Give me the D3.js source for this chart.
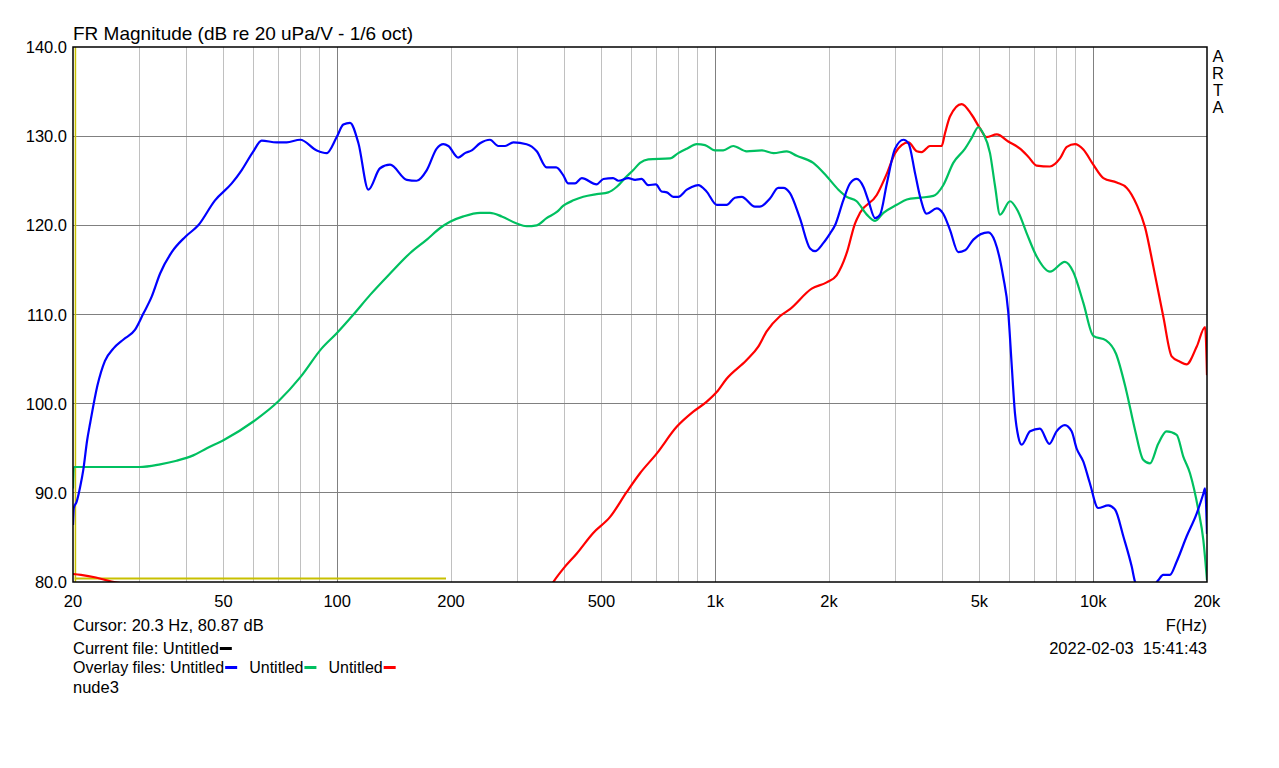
<!DOCTYPE html>
<html><head><meta charset="utf-8">
<script src="https://cdn.jsdelivr.net/npm/d3@7"></script>
<style>
html,body{margin:0;padding:0;background:#fff;}
svg{display:block;font-family:"Liberation Sans",Arial,sans-serif;}
</style></head>
<body>
<svg id="c" width="1279" height="768"></svg>
<script>
// ---- data (frequency Hz, dB) ----
const xTickLabels = [[20,"20"],[50,"50"],[100,"100"],[200,"200"],[500,"500"],[1000,"1k"],[2000,"2k"],[5000,"5k"],[10000,"10k"],[20000,"20k"]];
const yTicks = [80,90,100,110,120,130,140];
const blueFreq = [20,20.1,20.45,20.9,21.3,21.8,22.2,23.2,24.3,25.6,27.2,29.2,30.7,32.3,34,36.5,39.6,42.9,47.5,52.6,55.9,60,63.1,69.1,73.5,79.8,88.3,93.8,99.7,103.8,108.1,113.8,120.9,129.8,138,152.8,162.2,172.6,183.3,190.9,196.8,209,217.8,227,238.7,253.6,266.7,278,292.4,317,337.2,358,379.4,396.5,408.5,425.7,443.6,485.6,505.9,537,554.5,589,613.8,638.6,665.2,696.6,721.2,744.7,774.8,798.4,841.4,867,901.6,948.4,1009,1072,1127,1175,1274,1313,1396,1468,1514,1577,1675,1782,1837,1931,2014,2075,2182,2274,2367,2467,2541,2649,2730,2845,2991,3148,3246,3380,3484,3625,3855,4011,4179,4395,4581,4819,5275,5495,5781,5959,6083,6209,6336,6470,6808,7229,7655,7999,8413,8768,9034,9417,9795,10304,10960,11430,12018,12648,12910,13715,14860,15313,15950,16630,17660,18790,19560,19760,20000];
const blueDb = [86.4,88.3,89.0,90.7,92.6,95.9,97.8,102.0,104.8,106.2,107.2,108.3,110.1,112.0,114.6,117.0,118.7,120.0,122.8,124.7,126.2,128.3,129.5,129.3,129.3,129.6,128.4,128.1,129.9,131.3,131.5,129.2,124.0,126.4,126.8,125.1,125.0,126.2,128.6,129.1,128.9,127.6,128.1,128.4,129.2,129.6,128.9,128.9,129.3,129.1,128.3,126.5,126.5,125.6,124.7,124.7,125.3,124.6,125.2,125.3,125.0,125.3,125.1,125.2,124.5,124.6,123.8,123.7,123.2,123.2,124.0,124.3,124.5,123.8,122.3,122.3,123.1,123.2,122.1,122.1,123.0,124.2,124.2,123.6,120.8,117.4,117.1,118.0,119.1,120.0,122.8,124.7,125.2,124.3,122.8,120.8,121.2,124.7,128.6,129.6,129.2,125.8,123.2,121.3,121.9,121.3,119.5,117.0,117.2,118.4,119.2,118.2,114.2,110.3,104.5,98.9,96.3,95.4,96.9,97.2,95.5,96.9,97.6,96.9,95.0,93.5,91.1,88.3,88.6,88.1,85.1,81.7,80.0,78.5,80.2,80.8,80.8,82.3,85.1,87.7,89.9,90.5,85.4];
const greenFreq = [20,20.1,25,30,34,37.6,41.6,45.2,50,60,70,80,91,99.7,110.4,122.2,138,156,172.6,187.2,198.8,215.7,238.7,253.6,272.4,298.5,317,337.2,358,381.1,396.5,421.6,447.7,485.6,521.2,548.3,583.4,607.2,632.5,665.2,759,798.4,841.4,893.4,939.7,998.5,1050,1116,1211,1328,1426,1546,1643,1817,1972,2118,2228,2367,2518,2649,2786,3022,3213,3484,3777,4011,4264,4581,4770,4966,5118,5333,5495,5669,6023,6336,6670,7087,7685,8413,8852,9417,10006,10810,11490,12210,12910,13560,14130,14860,15630,16630,17300,18030,18970,19560,20000];
const greenDb = [90.5,92.9,92.9,92.9,93.2,93.6,94.2,95.0,95.9,98.0,100.3,103.0,106.2,107.9,110.0,112.2,114.6,116.9,118.4,119.7,120.4,121.0,121.4,121.4,121.0,120.2,119.9,120.0,120.8,121.5,122.2,122.8,123.2,123.5,123.7,124.3,125.5,126.2,127.0,127.4,127.5,128.1,128.6,129.1,129.0,128.4,128.4,128.9,128.3,128.4,128.1,128.3,127.8,127.0,125.5,124.0,123.2,122.7,121.2,120.5,121.4,122.3,122.9,123.1,123.3,124.5,127.0,128.6,129.8,131.0,130.3,128.1,124.5,121.2,122.7,121.5,119.1,116.5,114.8,115.9,114.8,111.3,107.6,107.1,105.6,101.6,97.0,93.7,93.3,95.5,96.9,96.5,94.1,92.2,88.1,84.7,80.2];
const redFreq = [20,21,23,25,26.5,30,355,373,396.5,430.4,475.6,527.2,583.4,632.5,700,790.9,875,948.4,1009,1072,1211,1300,1368,1483,1577,1800,1972,2095,2228,2343,2416,2675,2845,2991,3113,3246,3413,3518,3699,3971,4053,4179,4487,4770,5013,5222,5560,5959,6402,6733,7087,7685,8167,8516,8950,9417,10006,10640,11540,12270,13040,13710,14420,15320,16130,16960,17650,18790,19770,20000];
const redDb = [80.9,80.8,80.5,80.1,79.9,79.2,78.5,80.0,81.5,83.2,85.5,87.3,90.1,92.2,94.4,97.4,99.1,100.2,101.3,102.8,104.9,106.4,108.1,109.8,110.6,112.9,113.6,114.4,116.9,120.2,121.4,123.4,125.8,128.1,129.0,129.3,128.3,128.2,128.9,128.9,130.3,132.2,133.6,132.4,130.9,129.9,130.2,129.4,128.6,127.7,126.7,126.6,127.5,128.8,129.1,128.5,126.8,125.3,124.8,124.2,122.3,119.8,115.4,109.8,105.3,104.7,104.4,106.4,108.6,103.2];
const yellowFreq = [20.2,194];
const yellowDb = [80.4,80.4];
const cursorFreq = 20.3;

// ---- layout ----
const svg = d3.select("#c");
const L=73,R=1207,T=47,B=582;
const x = d3.scaleLog().domain([20,20000]).range([L,R]);
const y = d3.scaleLinear().domain([80,140]).range([B,T]);

svg.append("defs").append("clipPath").attr("id","pc")
  .append("rect").attr("x",L).attr("y",T).attr("width",R-L).attr("height",B-T);

// grid
const minor=[];
[10,100,1000].forEach(d=>{for(let k=1;k<=9;k++){const f=d*k; if(f>20&&f<20000&&k!==1) minor.push(f);}});
const major=[100,1000,10000];
svg.append("g").selectAll("line").data(minor).join("line")
  .attr("x1",d=>x(d)).attr("x2",d=>x(d)).attr("y1",T).attr("y2",B)
  .attr("stroke","#c0c0c0").attr("stroke-width",1).attr("shape-rendering","crispEdges");
svg.append("g").selectAll("line").data(major).join("line")
  .attr("x1",d=>x(d)).attr("x2",d=>x(d)).attr("y1",T).attr("y2",B)
  .attr("stroke","#808080").attr("stroke-width",1).attr("shape-rendering","crispEdges");
svg.append("g").selectAll("line").data(yTicks.slice(1,-1)).join("line")
  .attr("x1",L).attr("x2",R).attr("y1",d=>y(d)).attr("y2",d=>y(d))
  .attr("stroke","#808080").attr("stroke-width",1).attr("shape-rendering","crispEdges");

// curves
const line = d3.line().curve(d3.curveMonotoneX).x(d=>x(d[0])).y(d=>y(d[1]));
const plot = svg.append("g").attr("clip-path","url(#pc)");
function draw(fs,ds,col,w){
  plot.append("path").datum(fs.map((f,i)=>[f,ds[i]]))
    .attr("d",line).attr("fill","none").attr("stroke",col).attr("stroke-width",w)
    .attr("stroke-linejoin","round");
}
// cursor
plot.append("line").attr("x1",x(cursorFreq)).attr("x2",x(cursorFreq)).attr("y1",T).attr("y2",B)
  .attr("stroke","#c8c000").attr("stroke-width",1.5);
draw(yellowFreq,yellowDb,"#c8c000",2);
draw(redFreq,redDb,"#ff0000",2.2);
draw(greenFreq,greenDb,"#00c060",2.2);
draw(blueFreq,blueDb,"#0000ff",2.2);

// frame
svg.append("rect").attr("x",L).attr("y",T).attr("width",R-L).attr("height",B-T)
  .attr("fill","none").attr("stroke","#000").attr("stroke-width",1.5);

const fs=16.5;
// y labels
svg.append("g").selectAll("text").data(yTicks).join("text")
  .attr("x",L-6).attr("y",d=>y(d)+6).attr("text-anchor","end").attr("font-size",fs)
  .text(d=>d.toFixed(1));
// x labels
svg.append("g").selectAll("text").data(xTickLabels).join("text")
  .attr("x",d=>x(d[0])).attr("y",607).attr("text-anchor","middle").attr("font-size",fs)
  .text(d=>d[1]);

// title
svg.append("text").attr("x",L).attr("y",40).attr("font-size",19)
  .text("FR Magnitude (dB re 20 uPa/V - 1/6 oct)");
// ARTA
["A","R","T","A"].forEach((c,i)=>svg.append("text").attr("x",1218).attr("y",62+i*17)
  .attr("text-anchor","middle").attr("font-size",fs).text(c));

// bottom texts
svg.append("text").attr("x",L).attr("y",631).attr("font-size",fs).text("Cursor: 20.3 Hz, 80.87 dB");
svg.append("text").attr("x",R).attr("y",631).attr("text-anchor","end").attr("font-size",fs).text("F(Hz)");
svg.append("text").attr("x",R).attr("y",654).attr("text-anchor","end").attr("font-size",fs).attr("xml:space","preserve").text("2022-02-03  15:41:43");

function legendLine(yy, size, parts){
  let cx=L;
  parts.forEach(p=>{
    if(p.text!==undefined){
      const t=svg.append("text").attr("x",cx).attr("y",yy).attr("font-size",size).attr("xml:space","preserve").text(p.text);
      cx+=t.node().getComputedTextLength();
    } else {
      svg.append("rect").attr("x",cx+1).attr("y",yy-7).attr("width",12).attr("height",3).attr("fill",p.color);
      cx+=14+(p.gap||0);
    }
  });
}
legendLine(654,fs,[{text:"Current file: Untitled"},{color:"#000"}]);
legendLine(673,16,[{text:"Overlay files: Untitled"},{color:"#0000ff",gap:11},{text:"Untitled"},{color:"#00c060",gap:11},{text:"Untitled"},{color:"#ff0000"}]);
svg.append("text").attr("x",L).attr("y",693).attr("font-size",fs).text("nude3");
</script>
</body></html>
